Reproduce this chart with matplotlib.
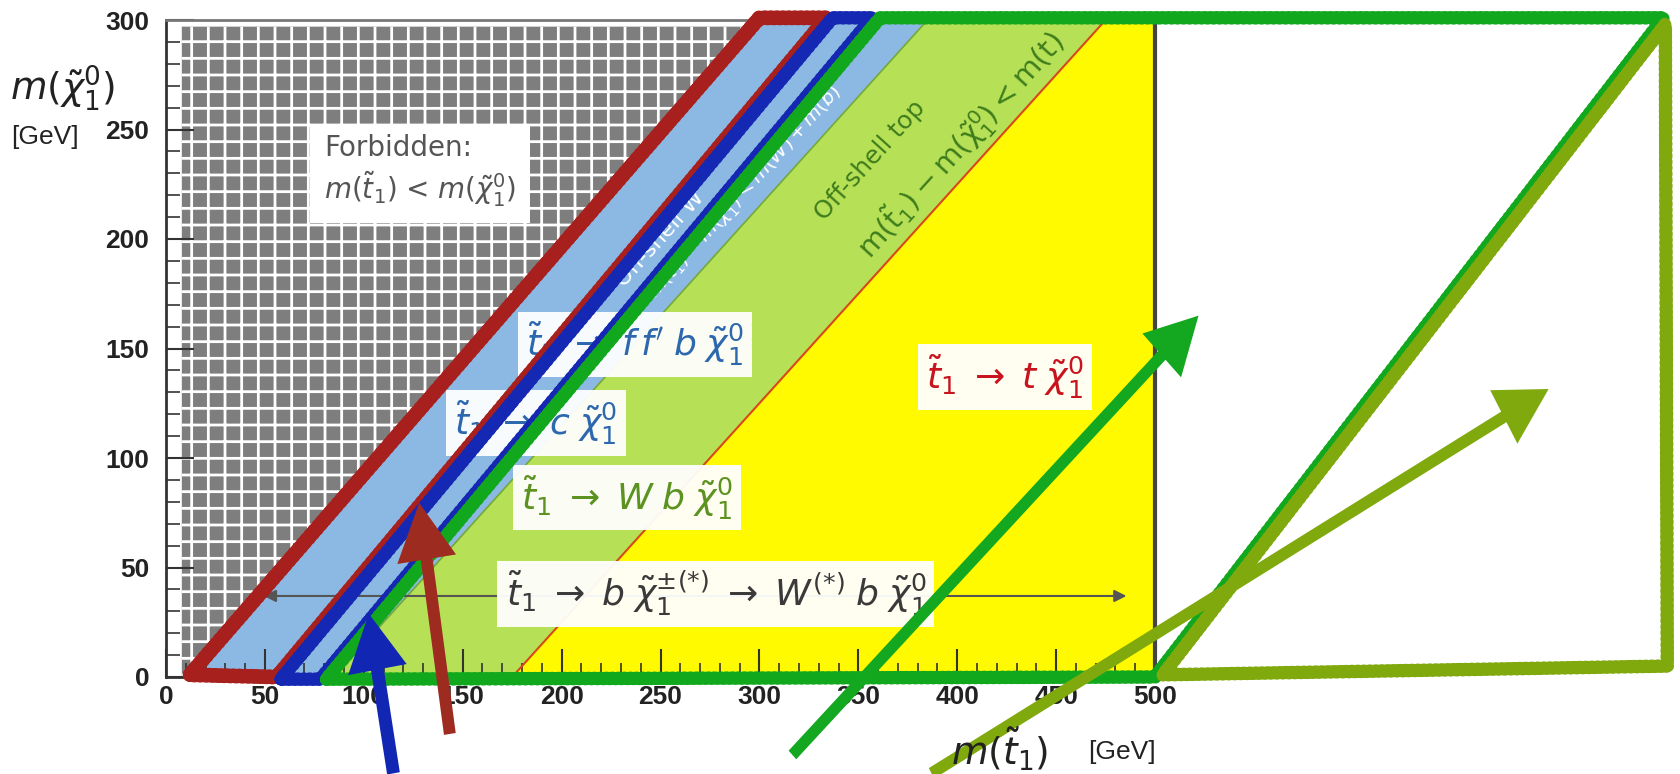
import numpy as np
import matplotlib
matplotlib.use("Agg")
import matplotlib.pyplot as plt
from matplotlib.patches import Polygon

# region boundaries, m(stop) - m(neutralino) in GeV
dm_forbid = 12
dm_w = 85
dm_top = 175
x_max, y_max = 500, 300

# hand drawn outlines (GeV, GeV)
red_x = [12, 300, 334, 56, 12]
red_y = [1, 301, 301, 0, 1]
blue_x = [58, 337, 357, 78, 58]
blue_y = [-1, 301, 301, -1, -1]
green_x = [81, 361, 757, 500, 81]
green_y = [-1, 301, 301, 0, -1]
olive_x = [504, 758, 759, 504]
olive_y = [1, 298, 5, 1]

# hand drawn arrows: tail -> tip
arrows = [
    ((115, -44), (102.5, 29), '#1226b4', 6.5, 30, 26),
    ((143.5, -26), (128, 79.5), '#9e2b20', 6.0, 30, 26),
    ((316.7, -35.6), (522, 165), '#14a820', 5.5, 28, 26),
    ((387, -44), (699, 131.5), '#80a90e', 5.5, 28, 26),
]

plt.rcParams['hatch.linewidth'] = 2.0
fig = plt.figure(figsize=(16.8, 7.74), dpi=100)
ax = fig.add_axes([166/1680, 97/774, 989/1680, 657/774])
ax.set_xlim(0, x_max)
ax.set_ylim(0, y_max)

# original regions
ax.add_patch(Polygon([(8, 0), (8, 297), (297, 297), (dm_forbid, 0)], facecolor='#7e7e7e',
                     edgecolor='white', hatch='+', lw=0, zorder=1))
ax.add_patch(Polygon([(dm_forbid, 0), (y_max, y_max), (y_max + dm_w, y_max), (dm_w, 0)],
                     facecolor='#8cb9e3', lw=0, zorder=1))
ax.add_patch(Polygon([(dm_w, 0), (y_max + dm_w, y_max), (y_max + dm_top, y_max), (dm_top, 0)],
                     facecolor='#b6e156', lw=0, zorder=1))
ax.add_patch(Polygon([(dm_top, 0), (y_max + dm_top, y_max), (x_max, y_max), (x_max, 0)],
                     facecolor='#fffa00', lw=0, zorder=1))
ax.plot([dm_w, y_max + dm_w], [0, y_max], color='#74a838', lw=1.2, zorder=2)
ax.plot([dm_top, y_max + dm_top], [0, y_max], color='#d8481a', lw=1.5, zorder=2)

rot = 47.9
ax.text(250, 200, 'Off-shell W', color='white', fontsize=16, rotation=rot,
        ha='center', va='center', zorder=3)
ax.text(292, 222, r'$m(\tilde{t}_1)-m(\tilde{\chi}^0_1) < m(W)+m(b)$', color='white',
        fontsize=14, rotation=rot, ha='center', va='center', zorder=3)
ax.text(356, 236, 'Off-shell top', color='#3f7d1c', fontsize=18, rotation=rot,
        ha='center', va='center', zorder=3)
ax.text(402, 243, r'$\mathregular{m(\tilde{t}_1)-m(\tilde{\chi}^0_1) < m(t)}$', color='#3f7d1c',
        fontsize=21, rotation=rot, ha='center', va='center', zorder=3)

box = dict(facecolor='white', edgecolor='none', pad=6, alpha=0.95)
ax.text(80, 231, 'Forbidden:\n' + r'$m(\tilde{t}_1)$ < $m(\tilde{\chi}^0_1)$', color='#555555',
        fontsize=20, ha='left', va='center', linespacing=1.25,
        bbox=dict(facecolor='white', edgecolor='none', pad=10), zorder=4)
ax.text(237, 152, r"$\tilde{t}_1 \;\rightarrow\; f\,f'\;b\;\tilde{\chi}^0_1$", color='#2d68ae',
        fontsize=26, ha='center', va='center', bbox=box, zorder=4)
ax.text(187, 116, r"$\tilde{t}_1 \;\rightarrow\; c\;\tilde{\chi}^0_1$", color='#2d68ae',
        fontsize=26, ha='center', va='center', bbox=box, zorder=4)
ax.text(233, 82, r"$\tilde{t}_1 \;\rightarrow\; W\;b\;\tilde{\chi}^0_1$", color='#5b9220',
        fontsize=26, ha='center', va='center', bbox=box, zorder=4)
ax.text(424, 137, r"$\tilde{t}_1 \;\rightarrow\; t\;\tilde{\chi}^0_1$", color='#c8141e',
        fontsize=26, ha='center', va='center', bbox=box, zorder=4)
ax.annotate('', xy=(48, 37), xytext=(487, 37),
            arrowprops=dict(arrowstyle='<|-|>', color='#555555', lw=1.5,
                            mutation_scale=18), zorder=3)
ax.text(278, 38, r"$\tilde{t}_1 \;\rightarrow\; b\;\tilde{\chi}^{\pm(*)}_1 \;\rightarrow\; W^{(*)}\;b\;\tilde{\chi}^0_1$",
        color='#3a3a3a', fontsize=26, ha='center', va='center', bbox=box, zorder=4)

# hand drawn overlay
for xs, ys, c, lw in [(red_x, red_y, '#a8201e', 10), (blue_x, blue_y, '#1428b4', 9),
                      (green_x, green_y, '#12a81e', 9), (olive_x, olive_y, '#80a90e', 9)]:
    line, = ax.plot(xs, ys, color=c, lw=lw, solid_joinstyle='round',
                    solid_capstyle='round', clip_on=False, zorder=6)
    line.set_sketch_params(0.6, 6, 1)

for (x0, y0), (x1, y1), c, w, hw, hl in arrows:
    ax.arrow(x0, y0, x1 - x0, y1 - y0, width=w, head_width=hw, head_length=hl,
             length_includes_head=True, color=c, lw=0, clip_on=False, zorder=7)

# axes frame and ticks
ax.set_xticks(np.arange(0, 501, 50))
ax.set_yticks(np.arange(0, 301, 50))
ax.set_xticks(np.arange(0, 501, 10), minor=True)
ax.set_yticks(np.arange(0, 301, 10), minor=True)
ax.tick_params(which='major', direction='in', length=20, width=1.5, color='#333333',
               labelsize=19, labelcolor='#222222', top=False, right=False)
ax.tick_params(which='minor', direction='in', length=10, width=1.2, color='#333333',
               top=False, right=False)
ax.tick_params(axis='x', pad=6)
ax.tick_params(axis='y', pad=12)
for lab in ax.get_xticklabels() + ax.get_yticklabels():
    lab.set_fontweight('bold')
    lab.set_family('Liberation Sans')
ax.spines['left'].set(color='#333333', lw=2)
ax.spines['bottom'].set(color='#333333', lw=2)
ax.spines['top'].set(color='#777777', lw=2)
ax.spines['right'].set(color='#444444', lw=3)

fig.text(62/1680, 1 - 88/774, r'$m(\tilde{\chi}^0_1)$', fontsize=27, color='#222222',
         ha='center', va='center')
fig.text(45/1680, 1 - 137/774, '[GeV]', fontsize=19, color='#222222',
         family='Liberation Sans', ha='center', va='center')
fig.text(1000/1680, 1 - 749/774, r'$m(\tilde{t}_1)$', fontsize=27, color='#222222',
         ha='center', va='center')
fig.text(1122/1680, 1 - 752/774, '[GeV]', fontsize=19, color='#222222',
         family='Liberation Sans', ha='center', va='center')

fig.savefig('out.png', dpi=100)
